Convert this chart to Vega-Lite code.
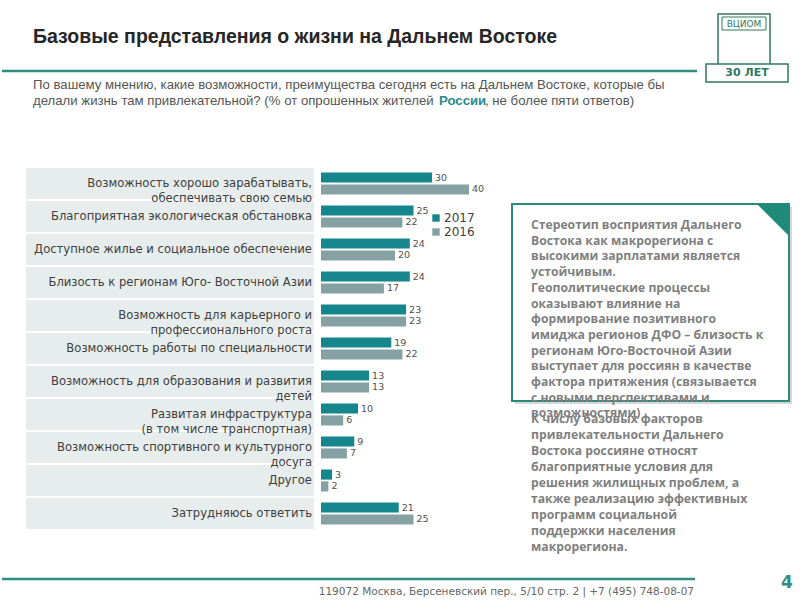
{
  "$schema": "https://vega.github.io/schema/vega-lite/v6.json",
  "padding": 0,
  "background": "white",
  "config": {"view": {"stroke": null}, "font": "DejaVu Sans"},
  "datasets": {
    "survey": [
      {"cat": "Возможность хорошо зарабатывать,\nобеспечивать свою семью", "year": "2017", "value": 30},
      {"cat": "Возможность хорошо зарабатывать,\nобеспечивать свою семью", "year": "2016", "value": 40},
      {"cat": "Благоприятная экологическая обстановка", "year": "2017", "value": 25},
      {"cat": "Благоприятная экологическая обстановка", "year": "2016", "value": 22},
      {"cat": "Доступное жилье и социальное обеспечение", "year": "2017", "value": 24},
      {"cat": "Доступное жилье и социальное обеспечение", "year": "2016", "value": 20},
      {"cat": "Близость к регионам Юго- Восточной Азии", "year": "2017", "value": 24},
      {"cat": "Близость к регионам Юго- Восточной Азии", "year": "2016", "value": 17},
      {"cat": "Возможность для карьерного и\nпрофессионального роста", "year": "2017", "value": 23},
      {"cat": "Возможность для карьерного и\nпрофессионального роста", "year": "2016", "value": 23},
      {"cat": "Возможность работы по специальности", "year": "2017", "value": 19},
      {"cat": "Возможность работы по специальности", "year": "2016", "value": 22},
      {"cat": "Возможность для образования и развития\nдетей", "year": "2017", "value": 13},
      {"cat": "Возможность для образования и развития\nдетей", "year": "2016", "value": 13},
      {"cat": "Развитая инфраструктура\n(в том числе транспортная)", "year": "2017", "value": 10},
      {"cat": "Развитая инфраструктура\n(в том числе транспортная)", "year": "2016", "value": 6},
      {"cat": "Возможность спортивного и культурного\nдосуга", "year": "2017", "value": 9},
      {"cat": "Возможность спортивного и культурного\nдосуга", "year": "2016", "value": 7},
      {"cat": "Другое", "year": "2017", "value": 3},
      {"cat": "Другое", "year": "2016", "value": 2},
      {"cat": "Затрудняюсь ответить", "year": "2017", "value": 21},
      {"cat": "Затрудняюсь ответить", "year": "2016", "value": 25}
    ]
  },
  "spacing": 0,
  "resolve": {"scale": {"x": "independent", "y": "independent", "color": "independent"}, "legend": {"color": "independent"}},
  "vconcat": [
    {
      "width": 800,
      "height": 166,
      "data": {"values": [{}]},
      "encoding": {
        "x": {"type": "quantitative", "scale": {"domain": [0, 800], "nice": false, "zero": false}, "axis": null},
        "y": {"type": "quantitative", "scale": {"domain": [0, 166], "reverse": true, "nice": false, "zero": false}, "axis": null}
      },
      "layer": [
        {
          "mark": {"type": "text", "text": "Базовые представления о жизни на Дальнем Востоке", "align": "left", "baseline": "middle", "font": "Liberation Sans", "fontSize": 19.5, "fontWeight": "bold", "color": "#262626"},
          "encoding": {"x": {"datum": 31, "type": "quantitative"}, "y": {"datum": 37, "type": "quantitative"}}
        },
        {
          "mark": {"type": "rule", "color": "#2f8c80", "strokeWidth": 2.5},
          "encoding": {"x": {"datum": 0, "type": "quantitative"}, "x2": {"datum": 695}, "y": {"datum": 71, "type": "quantitative"}}
        },
        {
          "mark": {"type": "text", "text": "По вашему мнению, какие возможности, преимущества сегодня есть на Дальнем Востоке, которые бы", "align": "left", "baseline": "middle", "font": "Liberation Sans", "fontSize": 13.2, "color": "#555555"},
          "encoding": {"x": {"datum": 31, "type": "quantitative"}, "y": {"datum": 85, "type": "quantitative"}}
        },
        {
          "mark": {"type": "text", "text": "делали жизнь там привлекательной? (% от опрошенных жителей", "align": "left", "baseline": "middle", "font": "Liberation Sans", "fontSize": 13.2, "color": "#555555"},
          "encoding": {"x": {"datum": 31, "type": "quantitative"}, "y": {"datum": 101, "type": "quantitative"}}
        },
        {
          "mark": {"type": "text", "text": "России", "align": "left", "baseline": "middle", "font": "Liberation Sans", "fontSize": 13.2, "fontWeight": "bold", "color": "#2a8a8c"},
          "encoding": {"x": {"datum": 437, "type": "quantitative"}, "y": {"datum": 101, "type": "quantitative"}}
        },
        {
          "mark": {"type": "text", "text": ", не более пяти ответов)", "align": "left", "baseline": "middle", "font": "Liberation Sans", "fontSize": 13.2, "color": "#555555"},
          "encoding": {"x": {"datum": 483, "type": "quantitative"}, "y": {"datum": 101, "type": "quantitative"}}
        },
        {
          "mark": {"type": "rect", "fill": "white", "stroke": "#2f7a5e", "strokeWidth": 1.5},
          "encoding": {"x": {"datum": 716, "type": "quantitative"}, "x2": {"datum": 768}, "y": {"datum": 14, "type": "quantitative"}, "y2": {"datum": 74}}
        },
        {
          "mark": {"type": "rect", "fill": "white", "stroke": "#2f7a5e", "strokeWidth": 1},
          "encoding": {"x": {"datum": 720, "type": "quantitative"}, "x2": {"datum": 764}, "y": {"datum": 17, "type": "quantitative"}, "y2": {"datum": 30}}
        },
        {
          "mark": {"type": "text", "text": "ВЦИОМ", "align": "center", "baseline": "middle", "fontSize": 9, "color": "#2f7a5e"},
          "encoding": {"x": {"datum": 742, "type": "quantitative"}, "y": {"datum": 24, "type": "quantitative"}}
        },
        {
          "mark": {"type": "rect", "fill": "white", "stroke": "#2f7a5e", "strokeWidth": 1.5},
          "encoding": {"x": {"datum": 704, "type": "quantitative"}, "x2": {"datum": 786}, "y": {"datum": 64, "type": "quantitative"}, "y2": {"datum": 82}}
        },
        {
          "mark": {"type": "text", "text": "30 ЛЕТ", "align": "center", "baseline": "middle", "fontSize": 11, "fontWeight": "bold", "color": "#2f7a5e"},
          "encoding": {"x": {"datum": 745, "type": "quantitative"}, "y": {"datum": 73, "type": "quantitative"}}
        }
      ]
    },
    {
      "spacing": 5,
      "resolve": {"scale": {"x": "independent", "y": "independent", "color": "independent"}, "legend": {"color": "independent"}},
      "hconcat": [
        {"width": 17, "height": 363, "data": {"values": []}, "mark": "point"},
        {
          "width": 290,
          "height": 363,
          "data": {"name": "survey"},
          "transform": [{"filter": "datum.year === '2017'"}],
          "encoding": {
            "y": {"field": "cat", "type": "nominal", "sort": null, "axis": null, "scale": {"paddingInner": 0, "paddingOuter": 0}}
          },
          "layer": [
            {
              "mark": {"type": "rect", "fill": "#e7eded", "stroke": "white", "strokeWidth": 2},
              "encoding": {
                "x": {"datum": 0, "type": "quantitative", "scale": {"domain": [0, 1], "nice": false, "zero": false}, "axis": null},
                "x2": {"datum": 1}
              }
            },
            {
              "mark": {"type": "text", "align": "right", "baseline": "middle", "lineBreak": "\n", "lineHeight": 15, "fontSize": 11.6, "color": "#404040", "dx": -3},
              "encoding": {
                "x": {"datum": 1, "type": "quantitative"},
                "text": {"field": "cat"}
              }
            }
          ]
        },
        {
          "width": 185,
          "height": 363,
          "data": {"name": "survey"},
          "encoding": {
            "y": {"field": "cat", "type": "nominal", "sort": null, "axis": null, "scale": {"paddingInner": 0.333, "paddingOuter": 0.1667}},
            "yOffset": {"field": "year", "type": "nominal", "scale": {"domain": ["2017", "2016"], "paddingInner": 0.15}},
            "x": {"field": "value", "type": "quantitative", "axis": null, "scale": {"domain": [0, 50], "nice": false}}
          },
          "layer": [
            {
              "mark": {"type": "bar"},
              "encoding": {
                "color": {
                  "field": "year", "type": "nominal",
                  "scale": {"domain": ["2017", "2016"], "range": ["#14868c", "#86a1a4"]},
                  "legend": {"orient": "none", "legendX": 109, "legendY": 45, "title": null, "symbolType": "square", "symbolSize": 55, "labelFontSize": 12, "labelColor": "#404040", "rowPadding": 2, "symbolStrokeWidth": 0, "labelOffset": 2, "padding": 0}
                }
              }
            },
            {
              "mark": {"type": "text", "align": "left", "baseline": "middle", "dx": 3, "fontSize": 9.5, "color": "#505050"},
              "encoding": {"text": {"field": "value"}}
            }
          ]
        },
        {
          "width": 283,
          "height": 389,
          "data": {"values": [{}]},
          "encoding": {
            "x": {"type": "quantitative", "scale": {"domain": [0, 283], "nice": false, "zero": false}, "axis": null},
            "y": {"type": "quantitative", "scale": {"domain": [0, 389], "reverse": true, "nice": false, "zero": false}, "axis": null}
          },
          "layer": [
            {
              "mark": {"type": "rect", "fill": "#c8c8c8", "opacity": 0.7},
              "encoding": {"x": {"datum": 3, "type": "quantitative"}, "x2": {"datum": 280}, "y": {"datum": 40, "type": "quantitative"}, "y2": {"datum": 237}}
            },
            {
              "mark": {"type": "rect", "fill": "white", "stroke": "#2a8b7d", "strokeWidth": 2},
              "encoding": {"x": {"datum": 0, "type": "quantitative"}, "x2": {"datum": 277}, "y": {"datum": 37, "type": "quantitative"}, "y2": {"datum": 234}}
            },
            {
              "mark": {"type": "point", "shape": "M -1 -1 L 1 -1 L 1 1 Z", "size": 1024, "filled": true, "color": "#1f8a7a", "opacity": 1, "strokeWidth": 0},
              "encoding": {"x": {"datum": 261, "type": "quantitative"}, "y": {"datum": 53, "type": "quantitative"}}
            },
            {
              "mark": {"type": "text", "align": "left", "baseline": "alphabetic", "font": "Open Sans", "fontSize": 12.2, "fontWeight": "bold", "color": "#7f7f7f", "lineHeight": 15.7,
                "text": ["Стереотип восприятия Дальнего", "Востока как  макрорегиона с", "высокими зарплатами является", "устойчивым.", "Геополитические процессы", "оказывают влияние на", "формирование позитивного", "имиджа регионов ДФО – близость к", "регионам Юго-Восточной Азии", "выступает для россиян в качестве", "фактора притяжения (связывается", "с новыми перспективами и", "возможностями)"]},
              "encoding": {"x": {"datum": 19, "type": "quantitative"}, "y": {"datum": 62, "type": "quantitative"}}
            },
            {
              "mark": {"type": "text", "align": "left", "baseline": "alphabetic", "font": "Open Sans", "fontSize": 12.2, "fontWeight": "bold", "color": "#7f7f7f", "lineHeight": 16,
                "text": ["К числу базовых факторов", "привлекательности Дальнего", "Востока россияне относят", "благоприятные условия для", "решения жилищных проблем, а", "также реализацию эффективных", "программ социальной", "поддержки населения", "макрорегиона."]},
              "encoding": {"x": {"datum": 19, "type": "quantitative"}, "y": {"datum": 256, "type": "quantitative"}}
            }
          ]
        }
      ]
    },
    {
      "width": 800,
      "height": 45,
      "data": {"values": [{}]},
      "encoding": {
        "x": {"type": "quantitative", "scale": {"domain": [0, 800], "nice": false, "zero": false}, "axis": null},
        "y": {"type": "quantitative", "scale": {"domain": [0, 45], "reverse": true, "nice": false, "zero": false}, "axis": null}
      },
      "layer": [
        {
          "mark": {"type": "rule", "color": "#2f8c80", "strokeWidth": 2.5},
          "encoding": {"x": {"datum": 0, "type": "quantitative"}, "x2": {"datum": 693}, "y": {"datum": 23, "type": "quantitative"}}
        },
        {
          "mark": {"type": "text", "text": "119072 Москва, Берсеневский пер., 5/10 стр. 2  |  +7 (495) 748-08-07", "align": "right", "baseline": "middle", "fontSize": 10.5, "color": "#666666"},
          "encoding": {"x": {"datum": 692, "type": "quantitative"}, "y": {"datum": 36, "type": "quantitative"}}
        },
        {
          "mark": {"type": "text", "text": "4", "align": "center", "baseline": "middle", "fontSize": 17, "fontWeight": "bold", "color": "#2f8c80"},
          "encoding": {"x": {"datum": 785, "type": "quantitative"}, "y": {"datum": 27, "type": "quantitative"}}
        }
      ]
    }
  ]
}
